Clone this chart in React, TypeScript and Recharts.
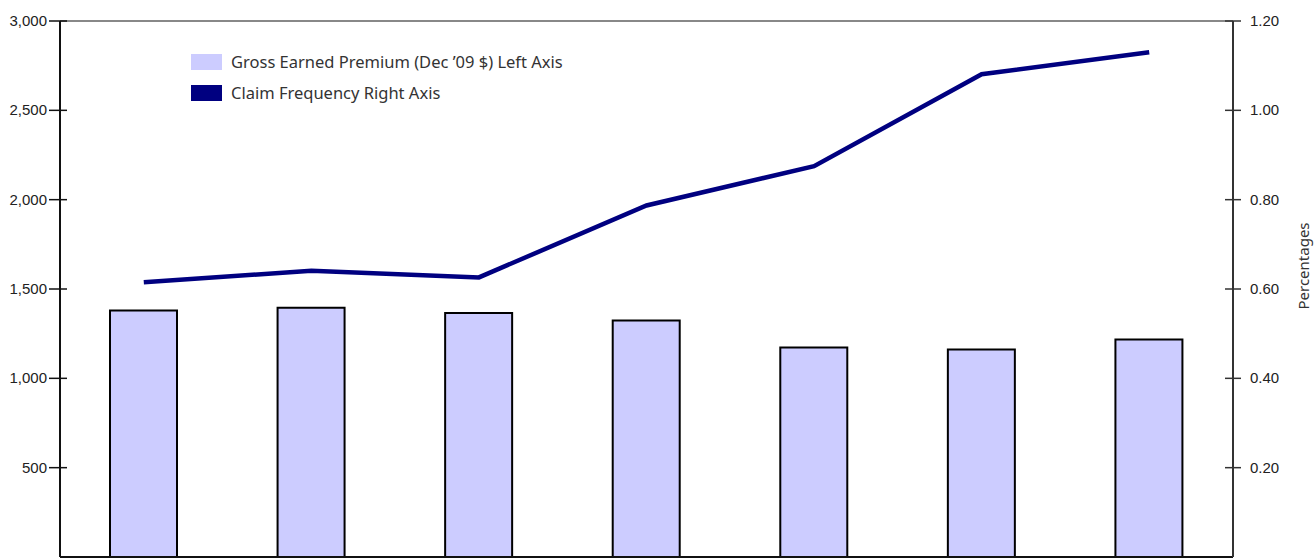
import { Bar, ComposedChart, Legend, Line, ReferenceLine, XAxis, YAxis } from 'recharts';

// periods along the x axis (labels fall below the visible frame)
const periods = ['1', '2', '3', '4', '5', '6', '7'];
// gross earned premium, Dec '09 $ (left axis)
const premium = [1380, 1395, 1365, 1323, 1172, 1161, 1217];
// claim frequency, percent (right axis)
const frequency = [0.615, 0.641, 0.626, 0.787, 0.875, 1.081, 1.13];

const leftTicks = [500, 1000, 1500, 2000, 2500, 3000];
const rightTicks = [0.2, 0.4, 0.6, 0.8, 1.0, 1.2];

const premiumName = 'Gross Earned Premium (Dec \u201909 $) Left Axis';
const frequencyName = 'Claim Frequency Right Axis';

// periods are placed at 1..n on a numeric axis so that ticks can mark the gaps between them
const data = periods.map((p, i) => ({ period: p, pos: i + 1, premium: premium[i], frequency: frequency[i] }));
const periodEdges = periods.slice(1).map((_, i) => i + 1.5);

const axisFont = '"Liberation Sans", Arial, sans-serif';
const labelFont = '"Noto Sans", "Open Sans", sans-serif';

const LeftTick = (props: any) => {
  const { x, y, payload } = props;
  return (
    <g>
      <line x1={x - 11} x2={x + 7} y1={y} y2={y} stroke="#111" strokeWidth={1.5} />
      <text x={x - 13} y={y} dy={5} textAnchor="end" fontSize={15} fontFamily={axisFont} fill="#222">
        {payload.value.toLocaleString('en-US')}
      </text>
    </g>
  );
};

const RightTick = (props: any) => {
  const { x, y, payload } = props;
  return (
    <g>
      <line x1={x - 8} x2={x + 8} y1={y} y2={y} stroke="#333" strokeWidth={1.5} />
      <text x={x + 17} y={y} dy={5} textAnchor="start" fontSize={15} fontFamily={axisFont} fill="#222">
        {payload.value.toFixed(2)}
      </text>
    </g>
  );
};

const PercentLabel = (props: any) => {
  const { viewBox } = props;
  const cx = viewBox.x + viewBox.width - 12;
  const cy = viewBox.y + viewBox.height / 2 - 23;
  return (
    <text x={cx} y={cy} transform={`rotate(-90, ${cx}, ${cy})`} textAnchor="middle" dy={5}
      fontSize={15} fontFamily={labelFont} fill="#333">
      Percentages
    </text>
  );
};

const LegendBox = () => (
  <div style={{ fontFamily: labelFont, fontSize: 16.5, color: '#333' }}>
    {[
      { name: premiumName, color: '#ccccff' },
      { name: frequencyName, color: '#000080' },
    ].map((it) => (
      <div key={it.name} style={{ display: 'flex', alignItems: 'center', height: 31 }}>
        <span style={{ width: 31, height: 16, background: it.color, display: 'inline-block' }} />
        <span style={{ marginLeft: 9, whiteSpace: 'nowrap' }}>{it.name}</span>
      </div>
    ))}
  </div>
);

export default function App() {
  return (
    <div style={{ position: 'absolute', left: 0, top: 0, width: 1316, height: 558, background: '#fff' }}>
      <ComposedChart width={1316} height={558} data={data} margin={{ top: 21, right: 0, left: 0, bottom: 1 }}>
        <XAxis dataKey="pos" type="number" domain={[0.5, periods.length + 0.5]} ticks={periodEdges}
          height={1} mirror tick={false} tickSize={8} stroke="#111" strokeWidth={2} />
        <YAxis yAxisId="left" domain={[0, 3000]} ticks={leftTicks} width={60} tickLine={false}
          tickSize={0} tickMargin={0} tick={<LeftTick />} axisLine={{ stroke: '#111', strokeWidth: 2 }} />
        <YAxis yAxisId="right" orientation="right" domain={[0, 1.2]} ticks={rightTicks} width={83}
          tickLine={false} tickSize={0} tickMargin={0} tick={<RightTick />}
          axisLine={{ stroke: '#333', strokeWidth: 2 }} label={<PercentLabel />} />
        <ReferenceLine yAxisId="left" y={3000} stroke="#888" strokeWidth={2} />
        <Legend layout="vertical" align="center" verticalAlign="middle" content={<LegendBox />}
          wrapperStyle={{ top: 46, left: 191, width: 'auto' }} />
        <Bar yAxisId="left" dataKey="premium" name={premiumName} barSize={67} fill="#ccccff"
          stroke="#000" strokeWidth={2} isAnimationActive={false} />
        <Line yAxisId="right" dataKey="frequency" name={frequencyName} stroke="#000080" strokeWidth={4.5}
          dot={false} isAnimationActive={false} />
      </ComposedChart>
    </div>
  );
}
